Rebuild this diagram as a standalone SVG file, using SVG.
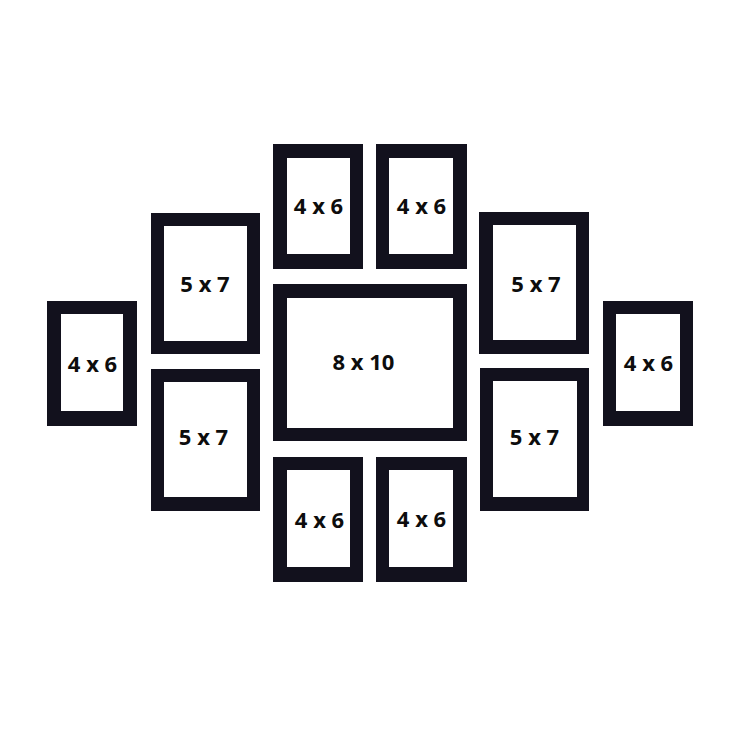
<svg xmlns="http://www.w3.org/2000/svg" width="736" height="736" viewBox="0 0 736 736">
<style>
.frame{fill:#12111d}
.mat{fill:#ffffff}
.lbl{font-family:"Open Sans","Liberation Sans",sans-serif;font-weight:bold;font-size:22px;fill:#0d0d0d;text-anchor:middle}
</style>
<rect width="736" height="736" fill="#ffffff"/>
<g id="f-4x6-top-left"><rect class="frame" x="273" y="144" width="90" height="125"/><rect class="mat" x="287" y="158" width="63" height="96"/><text class="lbl" x="318.5" y="213.5">4 x 6</text></g>
<g id="f-4x6-top-right"><rect class="frame" x="376" y="144" width="91" height="125"/><rect class="mat" x="389" y="158" width="64" height="96"/><text class="lbl" x="421.5" y="213.5">4 x 6</text></g>
<g id="f-5x7-left-top"><rect class="frame" x="151" y="213" width="109" height="141"/><rect class="mat" x="164" y="226" width="83" height="115"/><text class="lbl" x="205" y="292">5 x 7</text></g>
<g id="f-5x7-left-bottom"><rect class="frame" x="151" y="369" width="109" height="142"/><rect class="mat" x="164" y="382" width="83" height="115"/><text class="lbl" x="203.5" y="444.5">5 x 7</text></g>
<g id="f-4x6-left"><rect class="frame" x="47" y="301" width="90" height="125"/><rect class="mat" x="61" y="314" width="62" height="97"/><text class="lbl" x="92.5" y="371.5">4 x 6</text></g>
<g id="f-8x10-center"><rect class="frame" x="273" y="284" width="194" height="157"/><rect class="mat" x="287" y="298" width="166" height="130"/><text class="lbl" x="363.5" y="369.5">8 x 10</text></g>
<g id="f-4x6-bottom-left"><rect class="frame" x="273" y="457" width="90" height="125"/><rect class="mat" x="287" y="470" width="63" height="97"/><text class="lbl" x="319.5" y="527.5">4 x 6</text></g>
<g id="f-4x6-bottom-right"><rect class="frame" x="376" y="457" width="91" height="125"/><rect class="mat" x="389" y="470" width="64" height="97"/><text class="lbl" x="421.5" y="526.5">4 x 6</text></g>
<g id="f-5x7-right-top"><rect class="frame" x="479" y="212" width="110" height="142"/><rect class="mat" x="493" y="225" width="83" height="115"/><text class="lbl" x="536" y="292">5 x 7</text></g>
<g id="f-5x7-right-bottom"><rect class="frame" x="480" y="368" width="109" height="143"/><rect class="mat" x="493" y="381" width="84" height="116"/><text class="lbl" x="534.5" y="444.5">5 x 7</text></g>
<g id="f-4x6-right"><rect class="frame" x="603" y="301" width="90" height="125"/><rect class="mat" x="616" y="314" width="64" height="97"/><text class="lbl" x="648.5" y="371">4 x 6</text></g>
<g id="connectors"></g>
</svg>
